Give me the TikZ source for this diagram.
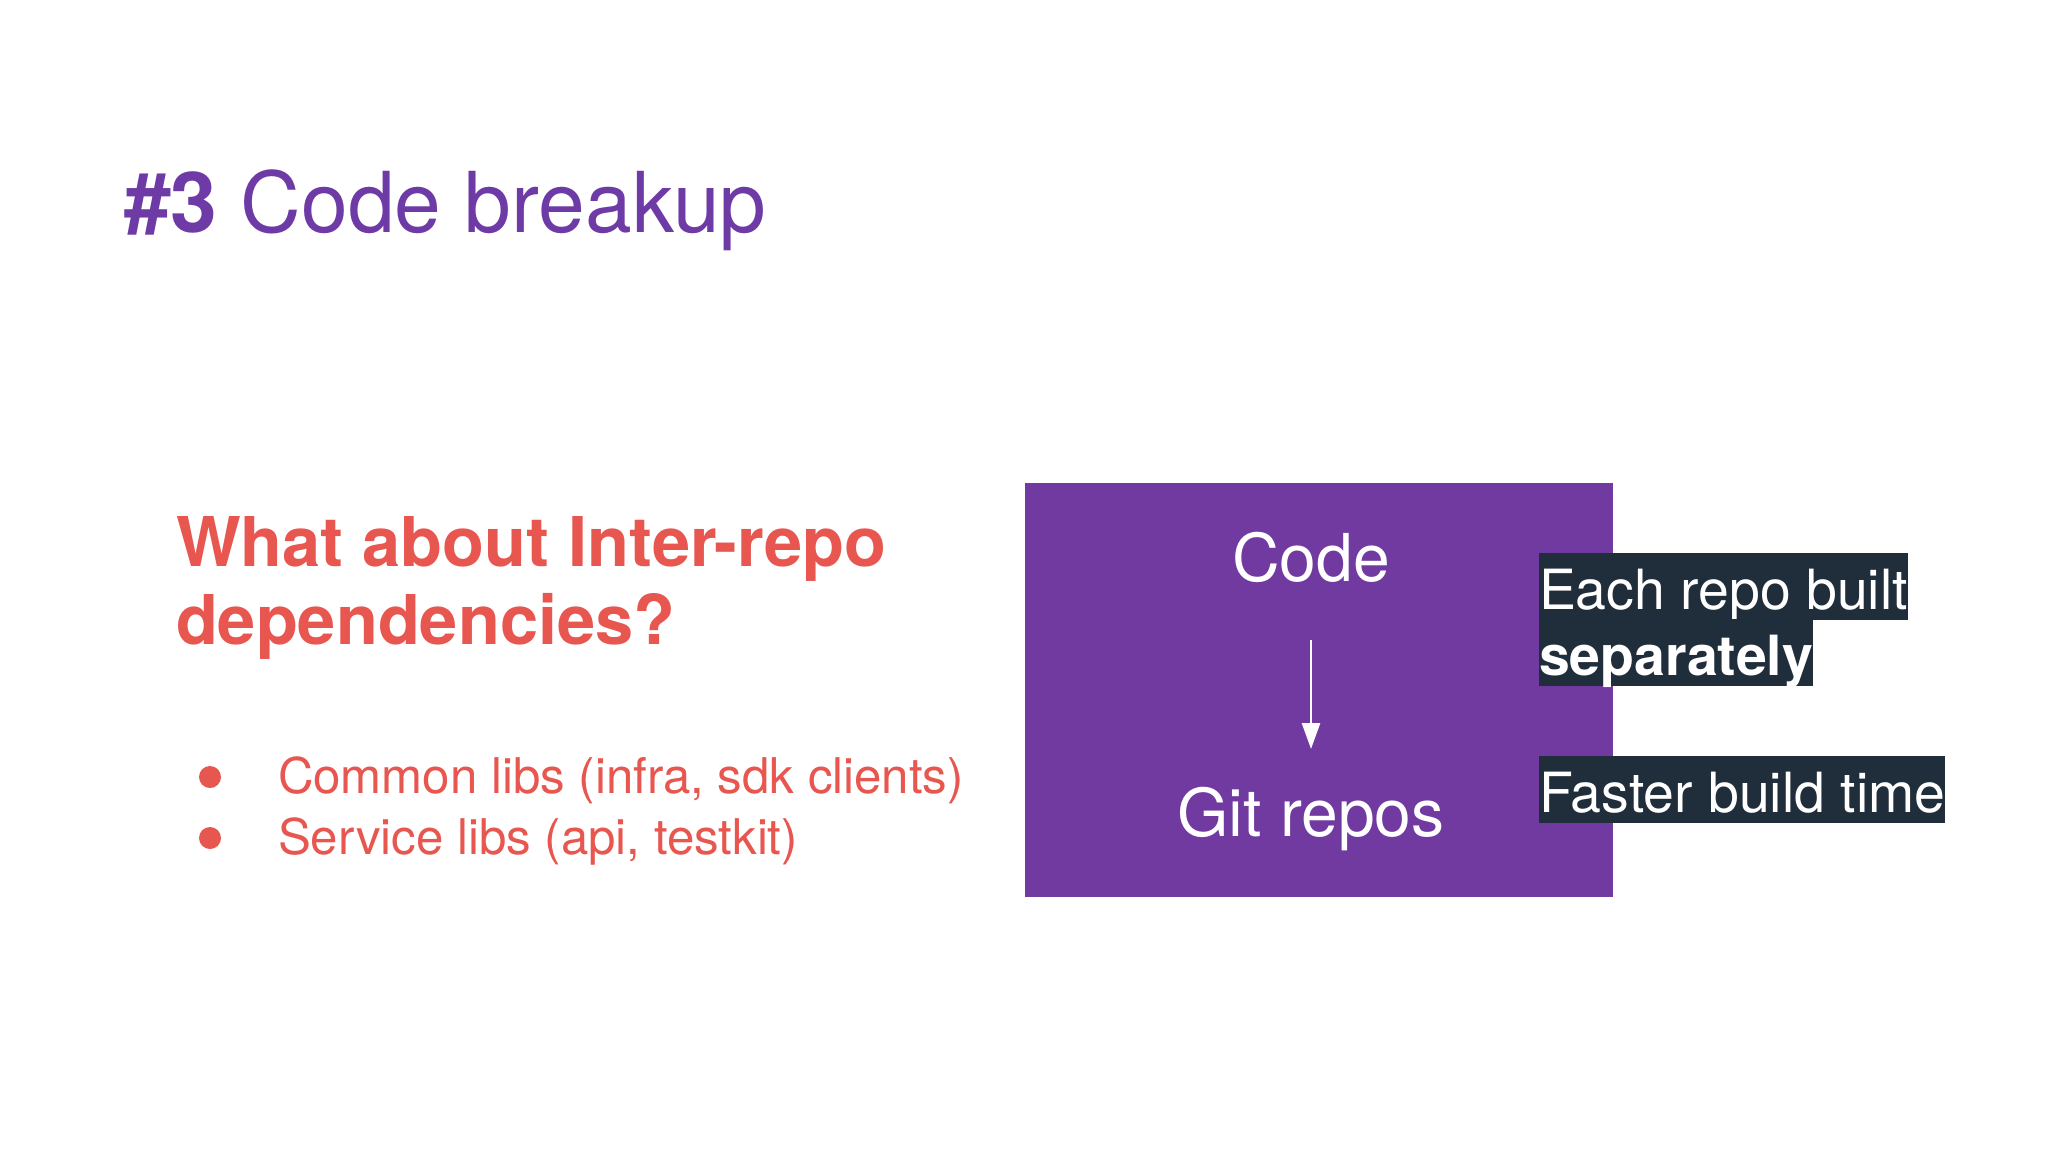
\documentclass[tikz,border=0pt]{standalone}
\usepackage{fontspec}
\setmainfont{TeX Gyre Heros}
\usetikzlibrary{arrows.meta}
\definecolor{titlepurple}{RGB}{110,58,166}
\definecolor{boxpurple}{RGB}{112,58,160}
\definecolor{salmon}{RGB}{232,86,80}
\definecolor{darknavy}{RGB}{32,45,58}
\tikzset{
  plain/.style={inner sep=0pt, outer sep=0pt},
  darklabel/.style={plain, fill=darknavy, text=white, font=\fontsize{27.7}{30}\selectfont,
    text height=28pt, text depth=5.5pt},
  boxtext/.style={plain, text=white, font=\fontsize{33}{36}\selectfont},
  bullettext/.style={plain, text=salmon, font=\fontsize{24.6}{28}\selectfont},
  dot/.style={circle, fill=salmon, minimum size=11pt, inner sep=0pt},
}
\begin{document}
\begin{tikzpicture}[x=0.5pt,y=-0.5pt]
\useasboundingbox[fill=white] (0,0) rectangle (2048,1152);
% title
\node[plain, anchor=base west, text=titlepurple, font=\fontsize{42}{46}\selectfont] (title) at (124,232) {\textbf{\#3} Code breakup};
% heading
\node[plain, anchor=base west, text=salmon, font=\fontsize{34.3}{39}\selectfont\bfseries] (h1) at (176,566) {What about Inter-repo};
\node[plain, anchor=base west, text=salmon, font=\fontsize{34.3}{39}\selectfont\bfseries] (h2) at (176,644) {dependencies?};
% bullets
\node[dot] (d1) at (210,777) {};
\node[dot] (d2) at (210,838) {};
\node[bullettext, anchor=base west] (b1) at (278,793) {Common libs (infra, sdk clients)};
\node[bullettext, anchor=base west] (b2) at (278,854) {Service libs (api, testkit)};
% purple box
\node[plain, fill=boxpurple, minimum width=294pt, minimum height=207pt, anchor=north west] (box) at (1025,483) {};
\node[boxtext, anchor=base] (code) at (1311,581) {Code};
\node[boxtext, anchor=base] (git) at (1311,836) {Git repos};
\coordinate (a1) at (1311,640);
\coordinate (a2) at (1311,749);
\draw[white, line width=1.4pt, -{Triangle[width=9pt,length=13pt]}] (a1) -- (a2);
% dark labels
\node[darklabel, anchor=base west] (e1) at (1539,609) {Each repo built};
\node[darklabel, anchor=base west] (e2) at (1539,675) {\bfseries separately};
\node[darklabel, anchor=base west] (e3) at (1539,812) {Faster build time};
\end{tikzpicture}
\end{document}
